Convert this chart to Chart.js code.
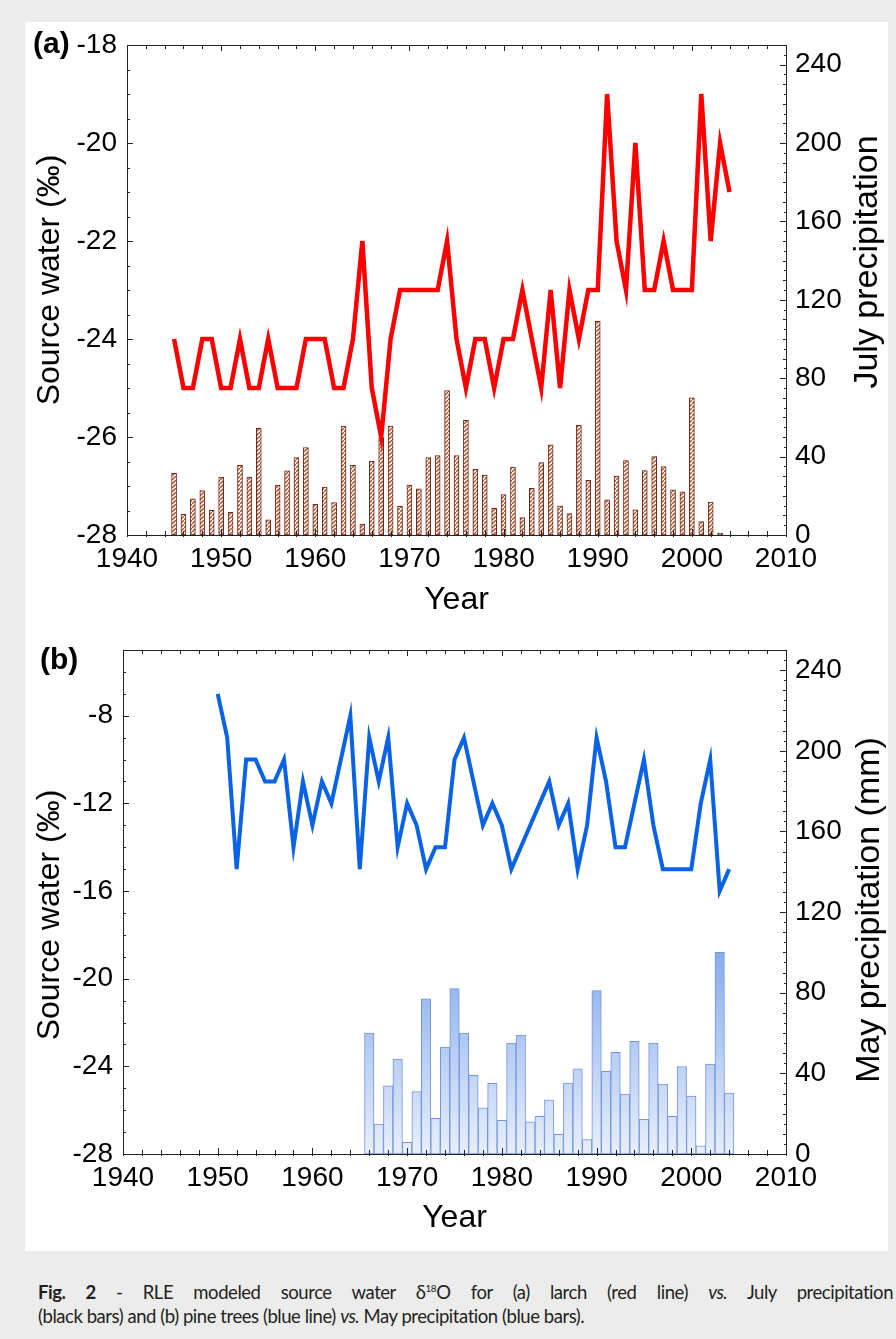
<!DOCTYPE html>
<html><head><meta charset="utf-8">
<script src="https://cdn.jsdelivr.net/npm/chart.js@4.4.1/dist/chart.umd.min.js"></script>
<style>
html,body{margin:0;padding:0;background:#ececec;}
body{width:896px;height:1339px;position:relative;overflow:hidden;}
#panel{position:absolute;left:25px;top:22px;width:863px;height:1229px;background:#fff;}
.wrap{position:absolute;left:0;width:896px;height:620px;}
.cap{position:absolute;left:38px;font-family:Lato,"Open Sans",sans-serif;font-size:18.5px;letter-spacing:-0.45px;color:#231f20;white-space:nowrap;line-height:24px;}
.cap.j{width:855px;text-align:justify;text-align-last:justify;white-space:normal;}
.cap sup{font-size:10px;vertical-align:7px;line-height:0;}
</style></head>
<body>
<div id="panel"></div>
<div class="wrap" style="top:0"><canvas id="ca" width="896" height="620"></canvas></div>
<div class="wrap" style="top:620px"><canvas id="cb" width="896" height="620"></canvas></div>
<div class="cap j" style="top:1280px"><b>Fig. 2</b> - RLE modeled source water δ<sup>18</sup>O for (a) larch (red line) <i>vs.</i> July precipitation</div>
<div class="cap" style="top:1304px">(black bars) and (b) pine trees (blue line) <i>vs.</i> May precipitation (blue bars).</div>
<script>
// ---------- DATA ----------
const larchYears = [1945,1946,1947,1948,1949,1950,1951,1952,1953,1954,1955,1956,1957,1958,1959,1960,1961,1962,1963,1964,1965,1966,1967,1968,1969,1970,1971,1972,1973,1974,1975,1976,1977,1978,1979,1980,1981,1982,1983,1984,1985,1986,1987,1988,1989,1990,1991,1992,1993,1994,1995,1996,1997,1998,1999,2000,2001,2002,2003,2004];
const larchD18O = [-24,-25,-25,-24,-24,-25,-25,-24,-25,-25,-24,-25,-25,-25,-24,-24,-24,-25,-25,-24,-22,-25,-26,-24,-23,-23,-23,-23,-23,-22,-24,-25,-24,-24,-25,-24,-24,-23,-24,-25,-23,-25,-23,-24,-23,-23,-19,-22,-23,-20,-23,-23,-22,-23,-23,-23,-19,-22,-20,-21];
const julyYears = [1945,1946,1947,1948,1949,1950,1951,1952,1953,1954,1955,1956,1957,1958,1959,1960,1961,1962,1963,1964,1965,1966,1967,1968,1969,1970,1971,1972,1973,1974,1975,1976,1977,1978,1979,1980,1981,1982,1983,1984,1985,1986,1987,1988,1989,1990,1991,1992,1993,1994,1995,1996,1997,1998,1999,2000,2001,2002,2003];
const julyPrecip = [31.5,10.5,18.4,22.6,12.6,29.6,11.6,35.5,29.6,54.4,7.7,25.5,32.7,39.5,44.6,15.6,24.5,16.5,55.6,35.5,5.6,37.6,49.7,55.6,14.6,25.5,23.6,39.5,40.5,73.7,40.5,58.5,33.5,30.6,13.6,20.6,34.7,8.9,23.8,36.9,46,14.8,10.9,56,27.9,109,17.9,30,38,12.9,32.9,40,34.9,23,22,70,6.8,16.8,1];
const pineYears = [1950,1951,1952,1953,1954,1955,1956,1957,1958,1959,1960,1961,1962,1963,1964,1965,1966,1967,1968,1969,1970,1971,1972,1973,1974,1975,1976,1977,1978,1979,1980,1981,1982,1983,1984,1985,1986,1987,1988,1989,1990,1991,1992,1993,1994,1995,1996,1997,1998,1999,2000,2001,2002,2003,2004];
const pineD18O = [-7,-9,-15,-10,-10,-11,-11,-10,-14,-11,-13,-11,-12,-10,-8,-15,-9,-11,-9,-14,-12,-13,-15,-14,-14,-10,-9,-11,-13,-12,-13,-15,-14,-13,-12,-11,-13,-12,-15,-13,-9,-11,-14,-14,-12,-10,-13,-15,-15,-15,-15,-12,-10,-16,-15];
const mayYears = [1966,1967,1968,1969,1970,1971,1972,1973,1974,1975,1976,1977,1978,1979,1980,1981,1982,1983,1984,1985,1986,1987,1988,1989,1990,1991,1992,1993,1994,1995,1996,1997,1998,1999,2000,2001,2002,2003,2004];
const mayPrecip = [60,14.9,33.8,47.1,5.8,31,77,17.7,53,82,60,39,22.9,35,16.7,55,59,15.9,18.7,26.9,9.8,35.2,42.3,7.1,81,41,50.4,29.7,55.9,17.2,55,34.7,18.7,43.4,28.7,4,44.6,100,30.2];
const yearTicks = [1940,1950,1960,1970,1980,1990,2000,2010];
const leftTicksA = [-28,-26,-24,-22,-20,-18];
const leftTicksB = [-28,-24,-20,-16,-12,-8];
const precipTicks = [0,40,80,120,160,200,240];

// ---------- HELPERS ----------
const FONT = "'Liberation Sans', Arial, Helvetica, sans-serif";
Chart.defaults.font.family = FONT;
Chart.defaults.color = '#000';

function hatchPattern(){
  const c = document.createElement('canvas'); c.width = 4; c.height = 4;
  const g = c.getContext('2d');
  g.fillStyle = '#fff6ee'; g.fillRect(0,0,4,4);
  g.strokeStyle = '#a8502c'; g.lineWidth = 1.3;
  g.beginPath(); g.moveTo(0,4); g.lineTo(4,0); g.stroke();
  return g.createPattern(c,'repeat');
}

function setTicks(arr){ return function(scale){ scale.ticks = arr.map(v=>({value:v})); }; }

function decoPlugin(o){
  return {
    id: 'deco',
    afterDatasetsDraw(chart){
      const {ctx, chartArea:a, scales} = chart;
      ctx.save();
      ctx.strokeStyle = '#222'; ctx.lineWidth = 1;
      ctx.strokeRect(Math.round(a.left)+0.5, Math.round(a.top)+0.5, Math.round(a.right-a.left), Math.round(a.bottom-a.top));
      const seg=(x1,y1,x2,y2)=>{ctx.beginPath();ctx.moveTo(x1,y1);ctx.lineTo(x2,y2);ctx.stroke();};
      for(let v=1940; v<=2010; v+=2){
        const x = Math.round(scales.x.getPixelForValue(v))+0.5;
        const L = (v%10===0)?6:4;
        seg(x,a.bottom+2,x,a.bottom-L); seg(x,a.top,x,a.top+L);
      }
      for(let v=o.lmin; v<=o.lmax+1e-6; v+=o.lminor){
        const y = Math.round(scales.y.getPixelForValue(v))+0.5;
        const k = (v-o.lmin)/o.lmajor;
        const L = (Math.abs(k-Math.round(k))<1e-6)?6:3;
        seg(a.left,y,a.left+L,y);
      }
      for(let v=0; v<=250; v+=5){
        const y = Math.round(scales.y1.getPixelForValue(v))+0.5;
        const L = (v%40===0)?6:(v%10===0?3:2);
        seg(a.right,y,a.right-L,y);
      }
      ctx.restore();
    },
    afterDraw(chart){
      const {ctx, chartArea:a} = chart;
      ctx.save();
      ctx.fillStyle = '#000';
      ctx.textAlign = 'center'; ctx.textBaseline = 'middle';
      ctx.font = '32px ' + FONT;
      ctx.save(); ctx.translate(o.ltx, o.lty); ctx.rotate(-Math.PI/2); ctx.fillText('Source water (‰)',0,0); ctx.restore();
      ctx.font = '34px ' + FONT;
      ctx.save(); ctx.translate(o.rtx, o.rty); ctx.rotate(-Math.PI/2); ctx.fillText(o.rtitle,0,0); ctx.restore();
      ctx.font = '32px ' + FONT;
      ctx.fillText('Year', (a.left+a.right)/2, o.yearY);
      ctx.font = 'bold 30px ' + FONT;
      ctx.textAlign = 'left';
      ctx.fillText(o.label, o.labX, o.labY);
      ctx.restore();
    }
  };
}

function scalesCfg(o){
  return {
    x: { type:'linear', min:1940, max:2010, offset:false, afterBuildTicks:setTicks(yearTicks),
         grid:{display:false, drawTicks:false}, border:{display:false},
         ticks:{font:{size:28}, padding:7, maxRotation:0, autoSkip:false, callback:v=>String(v)},
         afterFit:s=>{s.height = o.xh;} },
    y: { type:'linear', position:'left', min:o.lmin, max:o.lmax, afterBuildTicks:setTicks(o.lticks),
         grid:{display:false, drawTicks:false}, border:{display:false},
         ticks:{font:{size:28}, padding:10, callback:v=>String(v)},
         afterFit:s=>{s.width = o.lw;} },
    y1:{ type:'linear', position:'right', min:0, max:250, afterBuildTicks:setTicks(precipTicks),
         grid:{display:false, drawTicks:false}, border:{display:false},
         ticks:{font:{size:28}, padding:9, callback:v=>String(v)},
         afterFit:s=>{s.width = 110;} }
  };
}

// ---------- PANEL (a) ----------
const optA = {lmin:-28,lmax:-18,lmajor:2,lminor:0.5,lticks:leftTicksA,xh:85,lw:127,
  ltx:50, lty:280, rtx:868, rty:262, rtitle:'July precipitation', yearY:600, label:'(a)', labX:33, labY:45};
new Chart(document.getElementById('ca'), {
  type:'bar',
  data:{ datasets:[
    { type:'line', label:'Larch δ18O', data:larchYears.map((x,i)=>({x, y:larchD18O[i]})),
      yAxisID:'y', borderColor:'#ff0000', borderWidth:4.5, pointRadius:0, tension:0,
      borderJoinStyle:'miter', fill:false, order:0 },
    { type:'bar', label:'July precipitation', data:julyYears.map((x,i)=>({x, y:julyPrecip[i]})),
      yAxisID:'y1', backgroundColor:hatchPattern(), borderColor:'#6e2416', borderWidth:1,
      barThickness:5, borderSkipped:false, order:1 }
  ]},
  options:{ responsive:false, animation:false, devicePixelRatio:1,
    layout:{padding:{top:45,left:0,right:0,bottom:0}},
    plugins:{legend:{display:false}, tooltip:{enabled:false}},
    scales: scalesCfg(optA) },
  plugins:[decoPlugin(optA)]
});

// ---------- PANEL (b) ----------
const optB = {lmin:-28,lmax:-5,lmajor:4,lminor:1,lticks:leftTicksB,xh:86,lw:123,
  ltx:50, lty:295, rtx:870, rty:290, rtitle:'May precipitation (mm)', yearY:598, label:'(b)', labX:40, labY:41};
function blueGrad(context){
  const chart = context.chart; const a = chart.chartArea;
  if(!a) return '#b9cff3';
  const top = chart.scales.y1.getPixelForValue(100);
  const g = chart.ctx.createLinearGradient(0, top, 0, a.bottom);
  g.addColorStop(0, '#86acec'); g.addColorStop(1, '#e8effb');
  return g;
}
new Chart(document.getElementById('cb'), {
  type:'bar',
  data:{ datasets:[
    { type:'line', label:'Pine δ18O', data:pineYears.map((x,i)=>({x, y:pineD18O[i]})),
      yAxisID:'y', borderColor:'#0a62e6', borderWidth:4, pointRadius:0, tension:0,
      borderJoinStyle:'miter', fill:false, order:0 },
    { type:'bar', label:'May precipitation', data:mayYears.map((x,i)=>({x, y:mayPrecip[i]})),
      yAxisID:'y1', backgroundColor:blueGrad, borderColor:'#7494dc', borderWidth:1,
      barPercentage:1, categoryPercentage:1, borderSkipped:false, order:1 }
  ]},
  options:{ responsive:false, animation:false, devicePixelRatio:1,
    layout:{padding:{top:30,left:0,right:0,bottom:0}},
    plugins:{legend:{display:false}, tooltip:{enabled:false}},
    scales: scalesCfg(optB) },
  plugins:[decoPlugin(optB)]
});
</script>
</body></html>
